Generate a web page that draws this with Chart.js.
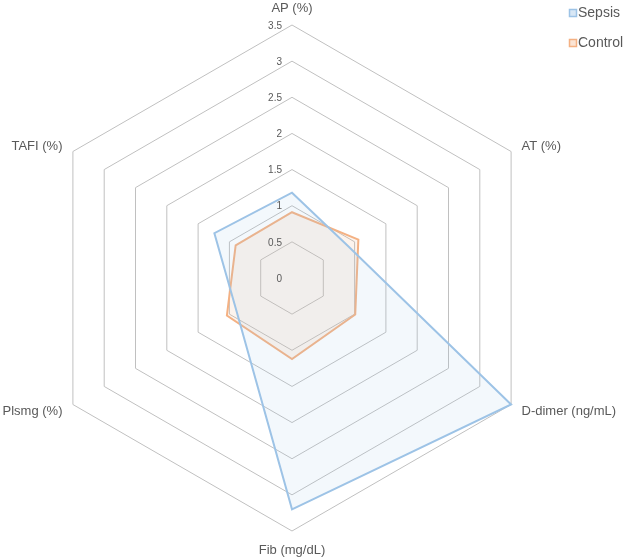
<!DOCTYPE html>
<html lang="en">
<head>
<meta charset="UTF-8">
<title>Sepsis vs Control</title>
<style>
    html, body { margin: 0; padding: 0; background: #fff; }
    .chart-box { position: relative; width: 624px; height: 558px; }
</style>
</head>
<body>
<div class="chart-box">
    <canvas id="radar-chart"></canvas>
</div>

<script src="https://cdn.jsdelivr.net/npm/chart.js@4"></script>
<script>
// axis names, going clockwise from the top
const axisLabels = ['AP (%)', 'AT (%)', 'D-dimer (ng/mL)', 'Fib (mg/dL)', 'Plsmg (%)', 'TAFI (%)'];
const sepsisValues = [1.18, 0.89, 3.5, 3.2, 0.89, 1.24];
const controlValues = [0.91, 1.06, 1.01, 1.12, 1.04, 0.90];
const tickValues = [0, 0.5, 1, 1.5, 2, 2.5, 3, 3.5];

const textColor = '#595959';
const fontFamily = '"Liberation Sans", Arial, sans-serif';

// tick numbers, axis names and the legend are drawn by hand
// so they can sit where the original puts them
const radarText = {
    id: 'radarText',
    afterDraw(chart) {
        const ctx = chart.ctx;
        const r = chart.scales.r;
        ctx.save();
        ctx.fillStyle = textColor;

        // tick numbers, just left of the vertical axis
        ctx.font = '10px ' + fontFamily;
        ctx.textAlign = 'right';
        ctx.textBaseline = 'middle';
        tickValues.forEach(v => {
            ctx.fillText(String(v), r.xCenter - 10, r.yCenter - r.getDistanceFromCenterForValue(v) + 1);
        });

        // axis names outside the outer ring
        ctx.font = '13px ' + fontFamily;
        chart.data.labels.forEach((label, i) => {
            const p = r.getPointPosition(i, r.drawingArea + 12);
            const dx = p.x - r.xCenter;
            const dy = p.y - r.yCenter;
            let y = p.y + 1;
            if (Math.abs(dx) < 1) {
                ctx.textAlign = 'center';
                y += dy < 0 ? -6 : 6;
            } else {
                ctx.textAlign = dx > 0 ? 'left' : 'right';
            }
            ctx.fillText(label, p.x, y);
        });

        // legend, top right
        ctx.font = '14px ' + fontFamily;
        ctx.textAlign = 'left';
        chart.data.datasets.forEach((ds, i) => {
            const y = 13 + i * 30;
            ctx.fillStyle = ds.legendFill;
            ctx.fillRect(569.5, y - 3.5, 7, 7);
            ctx.strokeStyle = ds.borderColor;
            ctx.lineWidth = 1.5;
            ctx.strokeRect(569.5, y - 3.5, 7, 7);
            ctx.fillStyle = textColor;
            ctx.fillText(ds.label, 578, y);
        });
        ctx.restore();
    }
};

const ctx = document.getElementById('radar-chart').getContext('2d');
new Chart(ctx, {
    type: 'radar',
    data: {
        labels: axisLabels,
        datasets: [{
            label: 'Sepsis',
            data: sepsisValues,
            borderColor: '#9dc3e6',
            backgroundColor: 'rgba(157, 195, 230, 0.12)',
            legendFill: 'rgba(157, 195, 230, 0.4)',
            borderWidth: 2,
            fill: true
        }, {
            label: 'Control',
            data: controlValues,
            borderColor: '#f4b183',
            backgroundColor: 'rgba(244, 177, 131, 0.14)',
            legendFill: 'rgba(244, 177, 131, 0.35)',
            borderWidth: 2,
            fill: true
        }]
    },
    options: {
        responsive: true,
        maintainAspectRatio: false,
        animation: false,
        layout: {
            padding: { left: 0, right: 40, top: 25, bottom: 27 }
        },
        elements: {
            point: { radius: 0, hoverRadius: 0 },
            line: { tension: 0, borderJoinStyle: 'miter' }
        },
        plugins: {
            legend: { display: false },
            tooltip: { enabled: false }
        },
        scales: {
            r: {
                min: 0,
                max: 3.5,
                ticks: { stepSize: 0.5, display: false },
                grid: { color: '#c0c0c0', lineWidth: 1 },
                angleLines: { display: false },
                pointLabels: { display: false }
            }
        }
    },
    plugins: [radarText]
});
</script>
</body>
</html>
